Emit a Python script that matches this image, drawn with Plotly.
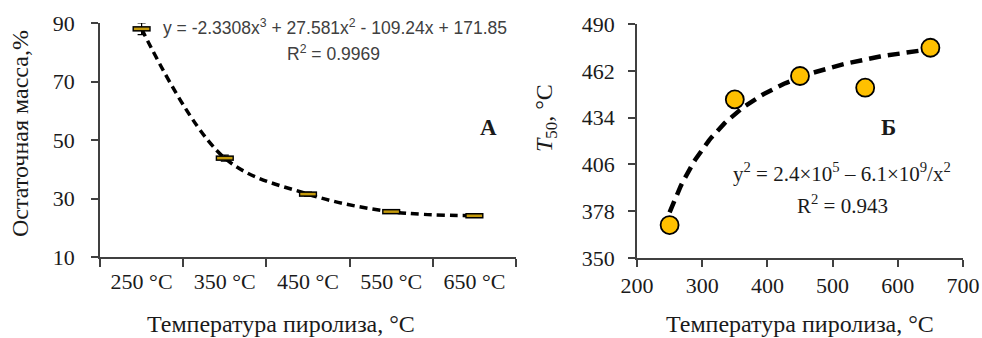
import numpy as np
import plotly.graph_objects as go

# ---- data: panel A ----
cat_labels = ["250 °C", "350 °C", "450 °C", "550 °C", "650 °C"]
cat_pos = [1, 2, 3, 4, 5]
mass = [88.0, 43.8, 31.5, 25.5, 24.1]
mass_err = [2.0, 1.0, 0.7, 0.6, 0.6]

# ---- data: panel B ----
temp = [250, 350, 450, 550, 650]
t50 = [369.7, 444.9, 458.9, 451.9, 475.8]
fitB_a = 2.4e5      # y^2 = a - b/x^2  (fit stated on the chart)
fitB_b = 6.1e9
yticksB = [350, 378, 406, 434, 462, 490]
yticksA = [10, 30, 50, 70, 90]

W, H = 982, 338
def px_x(p): return p / W
def px_y(p): return 1 - p / H

AX = "#404040"
TXT = "#1a1a1a"
SERIF = "Liberation Serif, Times New Roman, serif"
SANS = "Liberation Sans, Arial, sans-serif"

fig = go.Figure()

# smoothed dashed line A through the points
fig.add_trace(go.Scatter(x=cat_pos, y=mass, mode="lines", xaxis="x", yaxis="y",
                         line=dict(color="black", width=3.5, dash="8px,5px", shape="spline", smoothing=1.0),
                         hoverinfo="skip", showlegend=False))
# error bars + outline
fig.add_trace(go.Scatter(x=cat_pos, y=mass, mode="markers", xaxis="x", yaxis="y",
                         error_y=dict(type="data", array=mass_err, color="black", thickness=1.2, width=4),
                         marker=dict(symbol="line-ew", size=13, line=dict(color="black", width=5.5)),
                         showlegend=False))
fig.add_trace(go.Scatter(x=cat_pos, y=mass, mode="markers", xaxis="x", yaxis="y",
                         marker=dict(symbol="line-ew", size=11, line=dict(color="#C49A0C", width=2.5)),
                         showlegend=False))

# trendline B
xb = np.linspace(250, 650, 120)
yb = np.sqrt(fitB_a - fitB_b / xb**2)
fig.add_trace(go.Scatter(x=xb, y=yb, mode="lines", xaxis="x2", yaxis="y2",
                         line=dict(color="black", width=4.5, dash="12px,7px"),
                         hoverinfo="skip", showlegend=False))
fig.add_trace(go.Scatter(x=temp, y=t50, mode="markers", xaxis="x2", yaxis="y2",
                         marker=dict(symbol="circle", size=18, color="#FFC000",
                                     line=dict(color="black", width=1.8)),
                         showlegend=False))

axis_common = dict(showgrid=False, zeroline=False, showline=True, linecolor=AX, linewidth=1.6,
                   automargin=False,
                   tickfont=dict(family=SERIF, size=22, color=TXT), tickcolor=AX, tickwidth=1.6)

fig.update_layout(
    template="none", autosize=False,
    width=W, height=H, margin=dict(l=0, r=0, t=0, b=0, pad=0),
    paper_bgcolor="white", plot_bgcolor="white",
    xaxis=dict(domain=[px_x(100), px_x(516)], range=[0.5, 5.5], anchor="y",
               tickvals=cat_pos, ticktext=cat_labels, ticks="", ticklabelstandoff=4,
               minor=dict(tickvals=[0.5, 1.5, 2.5, 3.5, 4.5, 5.5], ticks="outside", ticklen=8,
                          tickcolor=AX, tickwidth=1.6, showgrid=False),
               **axis_common),
    yaxis=dict(domain=[px_y(257), px_y(23)], range=[10, 90], anchor="x",
               tickvals=yticksA, ticks="outside", ticklen=7, ticklabelstandoff=12, **axis_common),
    xaxis2=dict(domain=[px_x(637), px_x(963)], range=[200, 700], anchor="y2",
                tickvals=[200, 300, 400, 500, 600, 700], ticks="outside", ticklen=7,
                ticklabelstandoff=0, **axis_common),
    yaxis2=dict(domain=[px_y(258), px_y(24)], range=[350, 490], anchor="x2",
                tickvals=yticksB, ticks="outside", ticklen=7, ticklabelstandoff=9, **axis_common),
)

ann = []
def A(x, y, text, size=22, family=SERIF, color=TXT, angle=0, xanchor="center"):
    ann.append(dict(x=px_x(x), y=px_y(y), xref="paper", yref="paper", text=text, showarrow=False,
                    font=dict(family=family, size=size, color=color), textangle=angle,
                    xanchor=xanchor, yanchor="middle"))

A(281, 324, "Температура пиролиза, °C", size=24)
A(800, 324, "Температура пиролиза, °C", size=24)
A(20, 134, "Остаточная масса,%", size=24, angle=-90)
A(546, 118, "<i>T</i><sub>50</sub>, °C", size=24, angle=-90)
A(335, 27, "y = -2.3308x<sup>3</sup> + 27.581x<sup>2</sup> - 109.24x + 171.85",
  size=17.5, family=SANS, color="#404040")
A(333, 53, "R<sup>2</sup> = 0.9969", size=17.5, family=SANS, color="#404040")
A(488, 127, "<b>А</b>", size=23)
A(888, 127, "<b>Б</b>", size=23)
A(842, 173, "y<sup>2</sup> = 2.4×10<sup>5</sup> – 6.1×10<sup>9</sup>/x<sup>2</sup>", size=21)
A(842, 204, "R<sup>2</sup> = 0.943", size=21)
fig.update_layout(annotations=ann)

fig.write_html("out.html")
